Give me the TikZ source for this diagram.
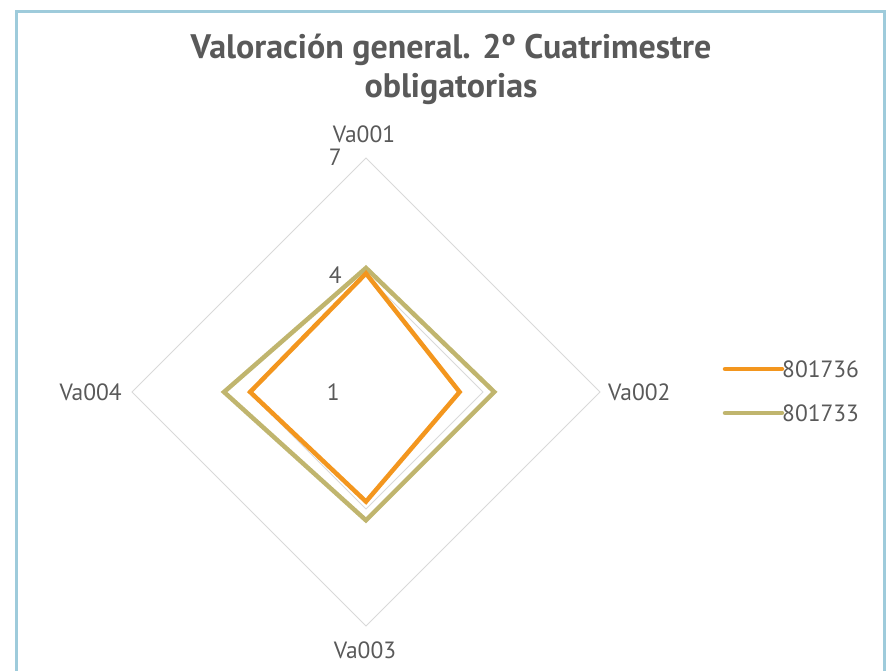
\documentclass[tikz,border=0pt]{standalone}
\usepackage{fontspec}
\setmainfont{PT Sans}
\usepackage{xcolor}
\definecolor{txtgray}{RGB}{89,89,89}
\definecolor{gridgray}{RGB}{217,217,217}
\definecolor{frameblue}{RGB}{158,203,219}
\definecolor{seroran}{RGB}{243,150,30}
\definecolor{serolive}{RGB}{192,181,110}
\tikzset{
  rad_lbl/.style = {inner sep=0pt, text=txtgray, font=\fontsize{23.5}{27}\selectfont},
  rad_tick/.style = {rad_lbl, anchor=east},
  rad_grid/.style = {draw=gridgray, line width=1pt},
  ser_o/.style = {draw=seroran, line width=4.5pt, miter limit=4},% serie 801736
  ser_v/.style = {draw=serolive, line width=4.5pt, miter limit=4}% serie 801733
}
\def\unit{39}% px por punto de la escala

\begin{document}
\begin{tikzpicture}[x=1pt,y=1pt]
\useasboundingbox (-366,-278) rectangle (525,392);
\draw[frameblue, line width=3pt] (-349,380) rectangle (518,-300);
% titulo
\node[text=txtgray, font=\fontsize{34}{39}\selectfont\bfseries, align=center]
  (titulo) at (85,323) {Valoración general. 2º Cuatrimestre\\obligatorias};
% rejilla
\foreach \r in {3,6}
  \draw[rad_grid] (90:\r*\unit) -- (0:\r*\unit) -- (-90:\r*\unit) -- (180:\r*\unit) -- cycle;
% series
\draw[ser_v] (90:{3.18*\unit}) -- (0:{3.29*\unit}) -- (-90:{3.29*\unit})
  -- (180:{3.64*\unit}) -- cycle;
\draw[ser_o] (90:{3.04*\unit}) -- (0:{2.40*\unit}) -- (-90:{2.81*\unit})
  -- (180:{2.97*\unit}) -- cycle;
% ejes
\node[rad_lbl] (va1) at (-2,258) {Va001};
\node[rad_lbl, anchor=west] (va2) at (242,0) {Va002};
\node[rad_lbl] (va3) at (-1,-258) {Va003};
\node[rad_lbl, anchor=east] (va4) at (-244,0) {Va004};
\node[rad_tick] (t7) at (-24,235) {7};
\node[rad_tick] (t4) at (-24,117) {4};
\node[rad_tick] (t1) at (-26,0) {1};
% leyenda
\coordinate (lo1) at (359,23);
\node[rad_lbl, anchor=west] (lo2) at (416,23) {801736};
\coordinate (lv1) at (359,-21);
\node[rad_lbl, anchor=west] (lv2) at (416,-21) {801733};
\draw[ser_o, line cap=round] (lo1) -- (lo2.west);
\draw[ser_v, line cap=round] (lv1) -- (lv2.west);
\end{tikzpicture}
\end{document}
